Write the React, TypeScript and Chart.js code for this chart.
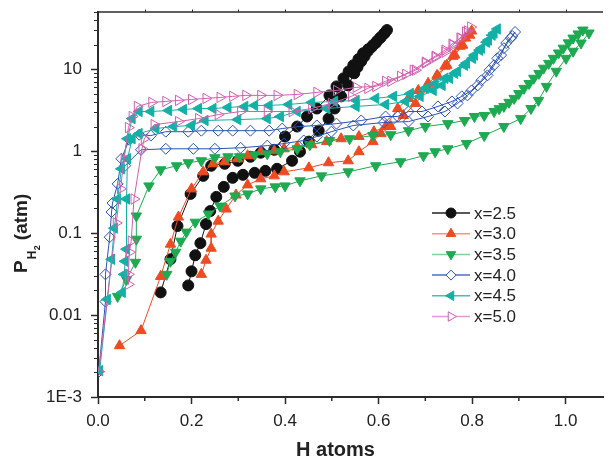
import { useEffect, useRef } from 'react';
import { Chart, registerables } from 'chart.js';
import { drawPoint } from 'chart.js/helpers';

Chart.register(...registerables);

// ---------------- data ----------------
const seriesLabels = ['x=2.5', 'x=3.0', 'x=3.5', 'x=4.0', 'x=4.5', 'x=5.0'];

// x = 2.5 (absorption then desorption)
const h25 = [0.134, 0.155, 0.170, 0.198, 0.225, 0.242, 0.271, 0.299, 0.326, 0.348, 0.377, 0.400, 0.426, 0.447, 0.468, 0.495, 0.510, 0.525, 0.536, 0.546, 0.557, 0.567, 0.578, 0.588, 0.597, 0.605, 0.612, 0.618,
  0.613, 0.603, 0.594, 0.585, 0.577, 0.570, 0.563, 0.555, 0.548, 0.535, 0.520, 0.506, 0.493, 0.472, 0.451, 0.432, 0.415, 0.383, 0.358, 0.335, 0.310, 0.288, 0.269, 0.253, 0.240, 0.231, 0.219, 0.208, 0.200, 0.193];
const p25 = [0.0189, 0.048, 0.122, 0.301, 0.500, 0.664, 0.702, 0.764, 0.855, 0.958, 1.04, 1.51, 2.00, 2.65, 3.32, 4.80, 6.18, 7.76, 9.4, 11.2, 13.3, 15.7, 17.6, 19.7, 22.2, 24.7, 27.3, 30.1,
  27.7, 24.0, 20.9, 18.6, 16.6, 14.4, 12.5, 10.6, 8.93, 6.36, 4.67, 3.32, 2.50, 1.78, 1.31, 0.986, 0.764, 0.610, 0.576, 0.545, 0.515, 0.473, 0.367, 0.277, 0.186, 0.129, 0.0754, 0.0537, 0.0342, 0.0230];

// x = 3.0
const h30 = [0.046, 0.092, 0.134, 0.155, 0.172, 0.200, 0.225, 0.246, 0.271, 0.299, 0.320, 0.348, 0.377, 0.398, 0.426, 0.457, 0.489, 0.520, 0.558, 0.590, 0.615, 0.641, 0.664, 0.685, 0.706, 0.725, 0.742, 0.759, 0.774, 0.786, 0.799,
  0.795, 0.780, 0.763, 0.746, 0.727, 0.706, 0.679, 0.653, 0.626, 0.605, 0.588, 0.558, 0.535, 0.493, 0.451, 0.398, 0.377, 0.348, 0.320, 0.295, 0.274, 0.257, 0.242, 0.242, 0.231, 0.221];
const p30 = [0.00423, 0.00646, 0.0296, 0.0733, 0.157, 0.347, 0.560, 0.702, 0.743, 0.809, 0.880, 0.986, 1.01, 1.07, 1.13, 1.20, 1.31, 1.42, 1.51, 1.73, 2.00, 3.32, 4.41, 5.52, 6.73, 8.43, 10.9, 14.4, 19.1, 24.0, 29.3,
  26.1, 19.7, 14.9, 11.2, 8.20, 5.85, 3.83, 2.73, 2.00, 1.64, 1.31, 0.986, 0.764, 0.723, 0.627, 0.560, 0.500, 0.460, 0.388, 0.292, 0.197, 0.140, 0.0973, 0.0655, 0.0467, 0.0314];

// x = 3.5
const h35 = [0.042, 0.061, 0.080, 0.082, 0.082, 0.109, 0.134, 0.168, 0.193, 0.221, 0.250, 0.278, 0.303, 0.335, 0.362, 0.390, 0.426, 0.453, 0.495, 0.538, 0.588, 0.626, 0.664, 0.700, 0.748, 0.784, 0.805, 0.826, 0.847, 0.858, 0.868, 0.879, 0.890, 0.900, 0.911, 0.922, 0.932, 0.943, 0.953, 0.964, 0.974, 0.985, 0.995, 1.006, 1.016, 1.027, 1.037,
  1.050, 1.033, 1.016, 1.001, 0.980, 0.959, 0.942, 0.926, 0.904, 0.868, 0.826, 0.788, 0.748, 0.721, 0.696, 0.647, 0.594, 0.535, 0.478, 0.432, 0.400, 0.379, 0.348, 0.320, 0.293, 0.261, 0.236, 0.208, 0.189, 0.177, 0.166, 0.155, 0.147];
const p35 = [0.0169, 0.0272, 0.0441, 0.0844, 0.162, 0.377, 0.593, 0.664, 0.723, 0.764, 0.832, 0.855, 0.855, 0.905, 0.931, 0.986, 1.07, 1.20, 1.35, 1.42, 1.55, 1.59, 1.78, 2.00, 2.17, 2.37, 2.65, 2.73, 3.05, 3.30, 3.52, 3.95, 4.41, 5.05, 5.85, 6.70, 7.76, 8.90, 10.3, 11.8, 13.6, 15.8, 18.1, 21.0, 24.0, 27.0, 30.1,
  27.7, 20.9, 16.6, 13.6, 9.45, 6.18, 4.17, 3.32, 2.50, 2.00, 1.55, 1.24, 1.07, 0.986, 0.880, 0.743, 0.664, 0.560, 0.500, 0.435, 0.377, 0.367, 0.347, 0.301, 0.284, 0.214, 0.171, 0.136, 0.103, 0.0798, 0.0585, 0.0453, 0.0314];

// x = 4.0
const h40 = [0.0015, 0.016, 0.016, 0.025, 0.029, 0.031, 0.042, 0.050, 0.067, 0.088, 0.113, 0.145, 0.193, 0.221, 0.257, 0.288, 0.326, 0.366, 0.394, 0.430, 0.468, 0.510, 0.563, 0.615, 0.641, 0.664, 0.693, 0.727, 0.757, 0.778, 0.799, 0.820, 0.837, 0.854, 0.868, 0.883, 0.892,
  0.886, 0.873, 0.862, 0.847, 0.833, 0.812, 0.790, 0.769, 0.742, 0.706, 0.664, 0.611, 0.546, 0.499, 0.468, 0.440, 0.398, 0.362, 0.305, 0.250, 0.204, 0.145, 0.092, 0.058];
const p40 = [0.00203, 0.0146, 0.0314, 0.0893, 0.181, 0.233, 0.399, 0.809, 1.38, 1.59, 1.55, 1.73, 1.73, 1.78, 1.78, 1.78, 1.78, 1.78, 1.89, 2.00, 2.06, 2.17, 2.37, 2.65, 2.65, 3.05, 3.05, 3.52, 4.05, 4.67, 5.52, 7.33, 9.73, 13.6, 18.1, 24.0, 28.5,
  25.4, 20.9, 14.9, 11.2, 8.43, 6.36, 4.80, 3.83, 3.05, 2.65, 2.30, 2.24, 2.06, 1.73, 1.51, 1.35, 1.24, 1.17, 1.10, 1.07, 1.07, 1.07, 1.04, 0.664];

// x = 4.5
const h45 = [0.0036, 0.020, 0.029, 0.035, 0.042, 0.050, 0.063, 0.073, 0.088, 0.113, 0.151, 0.183, 0.215, 0.246, 0.278, 0.314, 0.335, 0.366, 0.408, 0.457, 0.506, 0.552, 0.594, 0.632, 0.668, 0.700, 0.721, 0.742, 0.763, 0.784, 0.801, 0.816, 0.831, 0.843, 0.854,
  0.847, 0.835, 0.820, 0.805, 0.788, 0.769, 0.752, 0.736, 0.717, 0.689, 0.658, 0.615, 0.552, 0.489, 0.426, 0.390, 0.362, 0.299, 0.229, 0.200, 0.162, 0.124, 0.088, 0.073, 0.063, 0.061, 0.061, 0.058, 0.056, 0.052];
const p45 = [0.0021, 0.0155, 0.048, 0.115, 0.261, 0.610, 1.42, 2.50, 3.05, 3.05, 3.14, 3.23, 3.32, 3.32, 3.42, 3.52, 3.62, 3.62, 3.72, 3.94, 4.05, 4.17, 4.41, 4.67, 5.07, 5.85, 6.73, 7.76, 8.93, 11.2, 13.6, 17.1, 21.4, 26.1, 31.0,
  27.7, 22.7, 18.1, 14.9, 11.9, 9.45, 7.76, 6.36, 5.52, 4.67, 4.05, 3.72, 3.52, 3.32, 3.05, 2.65, 2.50, 2.43, 2.37, 2.06, 2.00, 1.89, 1.64, 1.42, 0.809, 0.261, 0.0637, 0.0453, 0.0314, 0.0189];

// x = 5.0
const h50 = [0.0015, 0.039, 0.048, 0.056, 0.065, 0.073, 0.084, 0.115, 0.145, 0.172, 0.200, 0.231, 0.261, 0.288, 0.316, 0.348, 0.383, 0.426, 0.468, 0.510, 0.552, 0.594, 0.626, 0.658, 0.679, 0.700, 0.721, 0.742, 0.759, 0.774, 0.786, 0.797,
  0.790, 0.776, 0.757, 0.742, 0.721, 0.700, 0.674, 0.647, 0.615, 0.577, 0.542, 0.499, 0.457, 0.415, 0.362, 0.305, 0.257, 0.215, 0.172, 0.120, 0.099, 0.094, 0.077, 0.071, 0.067, 0.065, 0.065];
const p50 = [0.00203, 0.133, 0.347, 0.809, 1.94, 2.65, 3.52, 3.94, 4.05, 4.17, 4.28, 4.41, 4.53, 4.67, 4.80, 4.80, 4.80, 4.93, 5.22, 5.52, 6.02, 6.18, 7.13, 8.68, 9.73, 11.9, 14.0, 16.2, 19.7, 24.0, 28.5, 32.8,
  29.3, 24.0, 20.3, 17.1, 14.4, 12.2, 9.73, 8.20, 7.13, 5.85, 4.67, 3.83, 3.32, 3.05, 3.05, 3.05, 2.80, 2.50, 2.30, 2.11, 1.42, 1.07, 0.261, 0.0798, 0.0585, 0.0314, 0.0237];

const seriesH = [h25, h30, h35, h40, h45, h50];
const seriesP = [p25, p30, p35, p40, p45, p50];

const xTickValues = [0, 0.2, 0.4, 0.6, 0.8, 1.0];
const xTickLabels = ['0.0', '0.2', '0.4', '0.6', '0.8', '1.0'];
const xMinorValues = [0.1, 0.3, 0.5, 0.7, 0.9];
const yTickValues = [0.001, 0.01, 0.1, 1, 10];
const yTickLabels = ['1E-3', '0.01', '0.1', '1', '10'];
const yMinorMultipliers = [2, 3, 4, 5, 6, 7, 8, 9];

// ---------------- styles ----------------
const FONT = '"Liberation Sans", Arial, Helvetica, sans-serif';
const AXIS = '#2b2b2b';
const TEXT = '#222222';
const X_MIN = 0, X_MAX = 1.08, Y_MIN = 0.001, Y_MAX = 50;

const styles = [
  { color: '#111111', legendLine: '#222222', pointStyle: 'circle', rotation: 0, filled: true, radius: 5.5 },
  { color: '#ee4b22', legendLine: '#f3987f', pointStyle: 'triangle', rotation: 0, filled: true, radius: 6 },
  { color: '#1daa50', legendLine: '#7fd09d', pointStyle: 'triangle', rotation: 180, filled: true, radius: 6 },
  { color: '#2b52b4', legendLine: '#4d6fc4', pointStyle: 'rectRot', rotation: 0, filled: false, radius: 5.5 },
  { color: '#13b0a6', legendLine: '#45c0b8', pointStyle: 'triangle', rotation: 270, filled: true, radius: 6 },
  { color: '#d35eb0', legendLine: '#e49ad0', pointStyle: 'triangle', rotation: 90, filled: false, radius: 6 },
];

const decorPlugin = {
  id: 'decor',
  afterDraw(chart: any) {
    const { ctx, chartArea: ca, scales } = chart;
    const xs = scales.x;
    const ys = scales.y;
    ctx.save();
    // top frame line
    ctx.strokeStyle = AXIS;
    ctx.lineWidth = 1.5;
    ctx.beginPath();
    ctx.moveTo(ca.left, ca.top);
    ctx.lineTo(ca.right, ca.top);
    ctx.stroke();
    // top small ticks
    ctx.lineWidth = 1;
    for (let i = 1; i <= 10; i++) {
      const px = Math.round(xs.getPixelForValue(i / 10)) + 0.5;
      ctx.beginPath();
      ctx.moveTo(px, ca.top);
      ctx.lineTo(px, ca.top - 2.5);
      ctx.stroke();
    }
    // x minor ticks
    ctx.lineWidth = 1.5;
    for (const v of xMinorValues) {
      const px = xs.getPixelForValue(v);
      ctx.beginPath();
      ctx.moveTo(px, ca.bottom);
      ctx.lineTo(px, ca.bottom + 4);
      ctx.stroke();
    }
    // y minor ticks
    ctx.lineWidth = 1;
    for (const dec of yTickValues) {
      for (const m of yMinorMultipliers) {
        const v = dec * m;
        if (v > Y_MAX) continue;
        const py = Math.round(ys.getPixelForValue(v)) + 0.5;
        ctx.beginPath();
        ctx.moveTo(ca.left, py);
        ctx.lineTo(ca.left - 4, py);
        ctx.stroke();
      }
    }
    // x axis title
    ctx.fillStyle = TEXT;
    ctx.font = `bold 20px ${FONT}`;
    ctx.textAlign = 'center';
    ctx.textBaseline = 'alphabetic';
    ctx.fillText('H atoms', 335.5, 456);
    // y axis title with subscripts
    ctx.save();
    ctx.translate(27, 273);
    ctx.rotate(-Math.PI / 2);
    ctx.textAlign = 'left';
    ctx.font = `bold 19px ${FONT}`;
    ctx.fillText('P', 0, 0);
    let w = ctx.measureText('P').width + 1;
    ctx.font = `bold 12px ${FONT}`;
    ctx.fillText('H', w, 9);
    w += ctx.measureText('H').width + 0.5;
    ctx.font = `bold 9px ${FONT}`;
    ctx.fillText('2', w, 13);
    w += ctx.measureText('2').width + 5;
    ctx.font = `bold 19px ${FONT}`;
    ctx.fillText('(atm)', w, 0);
    ctx.restore();
    // legend
    const lx0 = 432, lx1 = 470, ly0 = 213, dy = 20.7;
    ctx.font = `17px ${FONT}`;
    ctx.textAlign = 'left';
    ctx.textBaseline = 'middle';
    seriesLabels.forEach((lab, i) => {
      const st = styles[i];
      const y = ly0 + i * dy;
      ctx.strokeStyle = st.legendLine;
      ctx.lineWidth = 1.5;
      ctx.beginPath();
      ctx.moveTo(lx0, y);
      ctx.lineTo(lx1, y);
      ctx.stroke();
      ctx.strokeStyle = st.color;
      ctx.fillStyle = st.filled ? st.color : '#ffffff';
      ctx.lineWidth = 1;
      drawPoint(ctx, { pointStyle: st.pointStyle as any, rotation: st.rotation, radius: st.radius - 0.5, borderWidth: 1 } as any, (lx0 + lx1) / 2, y);
      ctx.fillStyle = TEXT;
      ctx.fillText(lab, 474, y + 1);
    });
    ctx.restore();
  },
};

export default function App() {
  const ref = useRef<HTMLCanvasElement>(null);

  useEffect(() => {
    const datasets = seriesLabels.map((label, i) => {
      const st = styles[i];
      return {
        label,
        data: seriesH[i].map((h, j) => ({ x: h, y: seriesP[i][j] })),
        showLine: true,
        borderColor: st.color,
        borderWidth: 1,
        pointStyle: st.pointStyle,
        pointRotation: st.rotation,
        pointRadius: st.radius,
        pointBorderWidth: 1,
        pointBorderColor: st.color,
        pointBackgroundColor: st.filled ? st.color : 'rgba(0,0,0,0)',
        tension: 0,
        order: 6 - i,
      };
    });

    const chart = new Chart(ref.current as HTMLCanvasElement, {
      type: 'scatter',
      data: { datasets } as any,
      options: {
        animation: false,
        responsive: false,
        maintainAspectRatio: false,
        devicePixelRatio: 1,
        layout: { padding: { left: 0, top: 12, right: 0, bottom: 0 } },
        plugins: { legend: { display: false }, tooltip: { enabled: false } },
        scales: {
          x: {
            type: 'linear',
            position: 'bottom',
            min: X_MIN,
            max: X_MAX,
            afterBuildTicks: (s: any) => { s.ticks = xTickValues.map((v) => ({ value: v })); },
            afterFit: (s: any) => { s.height = 61; s.paddingLeft = 0; s.paddingRight = 0; },
            ticks: {
              autoSkip: false,
              maxRotation: 0,
              color: TEXT,
              font: { family: FONT, size: 17 },
              padding: 7,
              callback: (_v: any, i: number) => xTickLabels[i],
            },
            grid: { display: true, drawOnChartArea: false, drawTicks: true, tickLength: 7, tickColor: AXIS, tickWidth: 1.5 },
            border: { display: true, color: AXIS, width: 2 },
          },
          y: {
            type: 'logarithmic',
            position: 'left',
            min: Y_MIN,
            max: Y_MAX,
            afterBuildTicks: (s: any) => { s.ticks = yTickValues.map((v) => ({ value: v, major: true })); },
            afterFit: (s: any) => { s.width = 98; s.paddingTop = 0; s.paddingBottom = 0; },
            ticks: {
              autoSkip: false,
              color: TEXT,
              font: { family: FONT, size: 17 },
              padding: 9,
              callback: (_v: any, i: number) => yTickLabels[i],
            },
            grid: { display: true, drawOnChartArea: false, drawTicks: true, tickLength: 7, tickColor: AXIS, tickWidth: 1.5 },
            border: { display: true, color: AXIS, width: 2 },
          },
        },
      } as any,
      plugins: [decorPlugin],
    });
    return () => chart.destroy();
  }, []);

  return (
    <div style={{ position: 'fixed', left: 0, top: 0, width: 610, height: 458, background: '#ffffff' }}>
      <canvas ref={ref} width={610} height={458} style={{ display: 'block', width: 610, height: 458 }} />
    </div>
  );
}
